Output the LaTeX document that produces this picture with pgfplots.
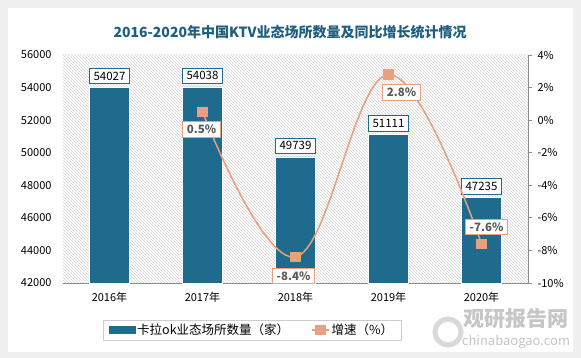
\documentclass[border=0pt]{standalone}
\usepackage{pgfplots}
\pgfplotsset{compat=1.18}
\usepackage{pgfplotstable}
\usepackage{fontspec}
\setmainfont{Noto Sans CJK SC}
\usetikzlibrary{patterns}
\definecolor{barblue}{HTML}{1F6B8E}
\definecolor{lineorange}{HTML}{E9A07F}
\definecolor{titleblue}{HTML}{1E5E80}
\definecolor{axisgray}{HTML}{8C8C8C}
\definecolor{labgray}{HTML}{595959}

\pgfplotstableread{
x y
0 54027
1 54038
2 49739
3 51111
4 47235
}\bardata

\pgfplotstableread{
x y dx dy
1 0.5 -1 -17
2 -8.4 -2 -19
3 2.8 13 -18
4 -7.6 5 17
}\linedata

\begin{document}
\begin{tikzpicture}[x=1pt,y=1pt]
\path[use as bounding box] (0,0) rectangle (581,358);
\fill[gray!12] (0,0) rectangle (581,358);
\fill[white] (8,6) rectangle (573,350);
\node[font=\bfseries\fontsize{14}{16}\selectfont, text=titleblue] at (290,326) {2016-2020年中国KTV业态场所数量及同比增长统计情况};
\fill[pattern=north west lines, pattern color=gray!32] (63,75) rectangle (528,303);
% watermark
\draw[gray!30, line width=5pt] (448,26) circle (13);
\node[font=\bfseries\fontsize{21}{23}\selectfont, text=gray!45] at (516,39) {观研报告网};
\node[font=\fontsize{13}{15}\selectfont, text=gray!45] at (516,16) {chinabaogao.com};

\begin{axis}[
  at={(63pt,75pt)}, anchor=south west,
  width=465pt, height=228pt, scale only axis,
  xmin=-0.5, xmax=4.5, ymin=42000, ymax=56000,
  ytick={42000,44000,...,56000},
  scaled y ticks=false,
  xtick={0,1,2,3,4},
  xticklabels={2016年,2017年,2018年,2019年,2020年},
  axis x line*=bottom, axis y line*=left,
  y axis line style={draw=none},
  x axis line style={draw=axisgray, line width=0.8pt, -},
  major tick length=0pt,
  /pgf/number format/assume math mode=true,
  /pgf/number format/1000 sep={},
  yticklabel={\pgfmathprintnumber[fixed, 1000 sep={}]{\tick}},
  tick label style={font=\fontsize{11}{13}\selectfont},
  yticklabel style={xshift=-8pt},
  xticklabel style={yshift=-6pt},
  clip=false,
]
\addplot[ybar, bar width=40pt, fill=barblue, draw=white, line width=0.5pt,
  nodes near coords={\pgfmathprintnumber[fixed, 1000 sep={}]{\pgfplotspointmeta}},
  every node near coord/.append style={draw=barblue, fill=white, text=black, line width=0.8pt,
    inner xsep=4pt, inner ysep=3.5pt, font=\fontsize{11.5}{13}\selectfont, yshift=3pt}]
  table[x=x, y=y] {\bardata};
\end{axis}

\begin{axis}[
  at={(63pt,75pt)}, anchor=south west,
  width=465pt, height=228pt, scale only axis,
  xmin=-0.5, xmax=4.5, ymin=-10, ymax=4,
  ytick={-10,-8,...,4},
  axis y line*=right, axis x line=none,
  y axis line style={draw=axisgray, line width=0.8pt, -},
  ytick style={draw=axisgray, line width=0.8pt},
  tick align=outside, major tick length=4pt,
  yticklabel={\pgfmathprintnumber{\tick}\%},
  /pgf/number format/assume math mode=true,
  tick label style={font=\fontsize{11}{13}\selectfont},
  yticklabel style={xshift=2pt},
  clip=false,
  legend style={at={(0.4065,-0.206)}, anchor=center, draw=gray!40, fill=white,
    font=\fontsize{12.5}{14}\selectfont, inner xsep=6pt, inner ysep=2pt,
    /tikz/every even column/.append style={column sep=20pt}},
  legend columns=2,
]
\addlegendimage{legend image code/.code={\fill[barblue] (0pt,-3.5pt) rectangle (26pt,3.5pt);}}
\addlegendentry{卡拉ok业态场所数量（家）}
\addplot[smooth, tension=0.65, color=lineorange, line width=1.5pt,
  mark=square*, mark size=4.5pt, mark options={fill=lineorange, draw=lineorange},
  visualization depends on={\thisrow{dx} \as \dx},
  visualization depends on={\thisrow{dy} \as \dy},
  nodes near coords={\pgfmathprintnumber[fixed, precision=1, fixed zerofill]{\pgfplotspointmeta}\%},
  nodes near coords align={center},
  every node near coord/.append style={anchor=center, xshift=\dx pt, yshift=\dy pt,
    draw=lineorange, fill=white, text=labgray, line width=0.8pt, inner xsep=4pt, inner ysep=3.5pt,
    font=\bfseries\fontsize{11.5}{13}\selectfont}]
  table[x=x, y=y] {\linedata};
\addlegendentry{增速（\%）}
\end{axis}
\end{tikzpicture}
\end{document}
